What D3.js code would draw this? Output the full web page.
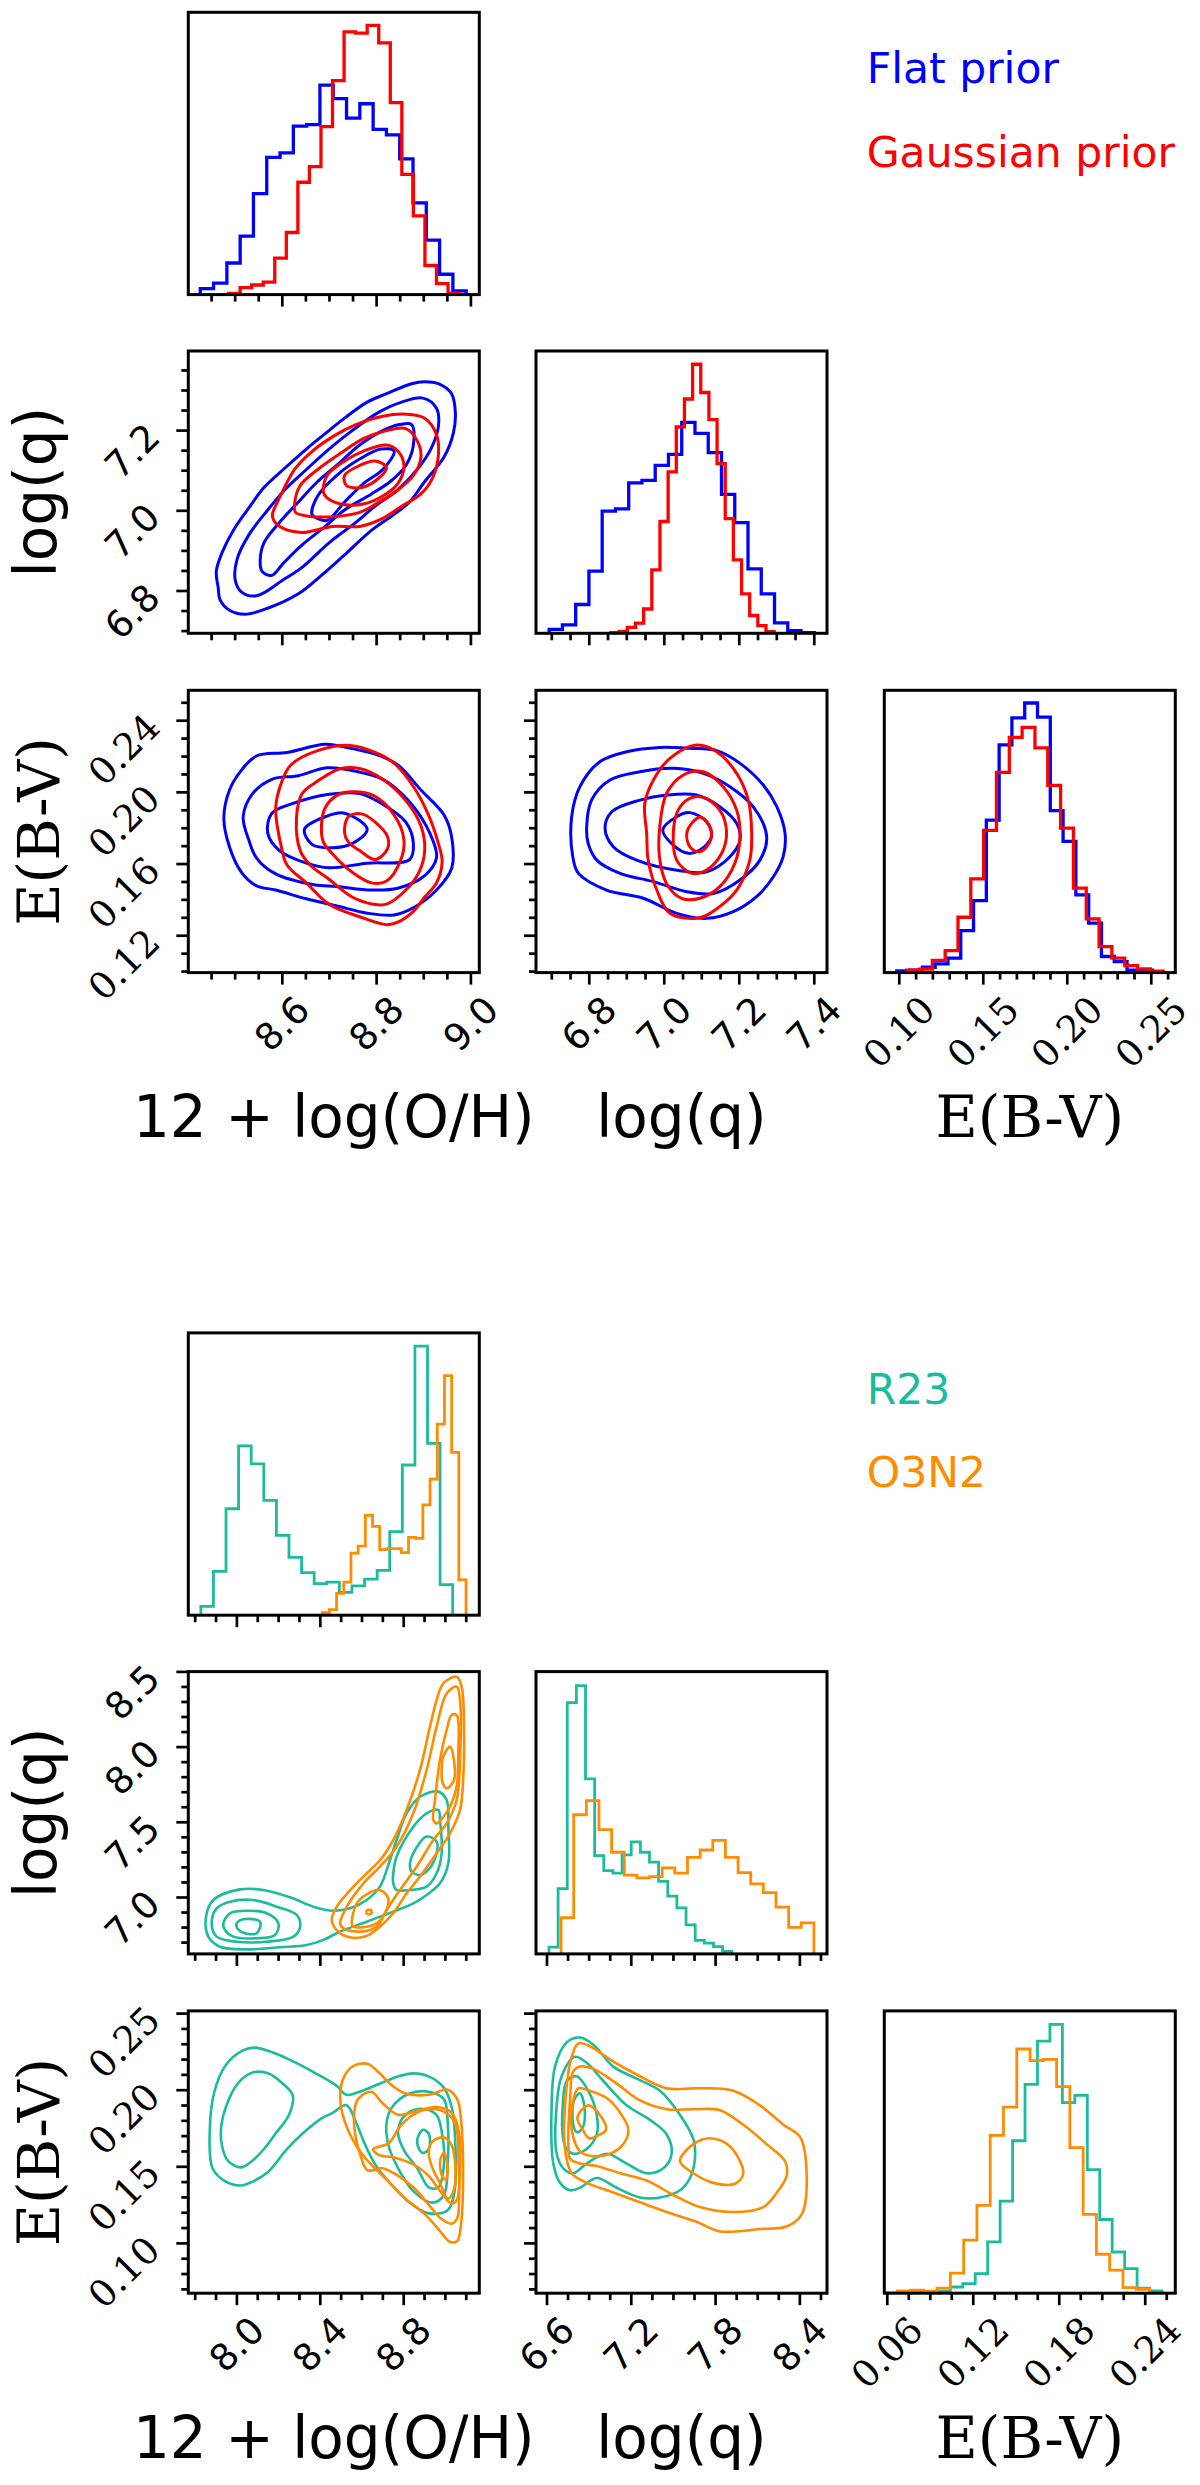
<!DOCTYPE html>
<html><head><meta charset="utf-8">
<script src="https://cdn.jsdelivr.net/npm/d3@7"></script>
<style>body{margin:0;background:#fff} svg{display:block}</style>
</head><body>
<svg id="c" width="1200" height="2485"></svg>
<script>
// ================= DATA : top corner plot (Flat prior vs Gaussian prior) =================
const topNames = ["Flat prior", "Gaussian prior"];
const topColors = ["#0000ff", "#ff0000"];

// histogram bin ranges [first edge, last edge] (20 bins) and bar heights (% of panel height)
const ohFlatRange = [8.426, 8.990];
const ohFlatHist = [2.1, 4.1, 11.2, 20.7, 35.8, 48.6, 50.2, 59.7, 60.2, 74.2, 69.4, 62.5, 67.6, 58.5, 56.6, 48.1, 32.5, 19.3, 7.2, 1.3];
const ohGaussRange = [8.486, 8.976];
const ohGaussHist = [0.4, 2.5, 3.4, 4.4, 12.9, 22.0, 39.8, 45.3, 59.5, 75.8, 93.1, 92.6, 95.4, 89.2, 68.0, 42.6, 27.9, 10.3, 3.9, 0.5];
const qFlatRange = [6.693, 7.400];
const qFlatHist = [1.4, 3.0, 10.2, 22.0, 43.3, 44.1, 53.3, 54.2, 59.5, 63.4, 74.7, 70.8, 64.0, 49.2, 39.2, 22.8, 14.0, 3.7, 0.9, 0.2];
const qGaussRange = [6.858, 7.293];
const qGaussHist = [0.2, 0.7, 2.1, 3.6, 8.6, 22.5, 39.6, 57.2, 73.1, 83.0, 95.3, 85.3, 75.7, 60.1, 40.6, 26.0, 14.0, 6.3, 2.7, 0.6];
const ebvFlatRange = [0.0985, 0.2508];
const ebvFlatHist = [0.6, 0.9, 1.9, 3.1, 5.1, 14.9, 25.5, 54.0, 80.7, 90.2, 95.5, 90.5, 57.4, 46.5, 27.5, 17.5, 5.7, 3.9, 0.9, 0.9];
const ebvGaussRange = [0.1044, 0.2571];
const ebvGaussHist = [0.9, 1.2, 4.3, 7.8, 19.6, 33.2, 50.4, 70.9, 83.3, 86.9, 79.6, 66.3, 51.2, 29.9, 19.0, 9.2, 5.1, 2.5, 1.3, 0.5];

// contour rings (data coordinates)
const flatOHQ = [
 [[8.464,6.808],[8.460,6.849],[8.472,6.895],[8.496,6.951],[8.529,7.007],[8.561,7.058],[8.602,7.103],[8.651,7.154],[8.699,7.200],[8.732,7.231],[8.780,7.271],[8.821,7.292],[8.874,7.317],[8.902,7.322],[8.931,7.317],[8.959,7.292],[8.967,7.246],[8.963,7.195],[8.943,7.134],[8.902,7.073],[8.870,7.022],[8.837,6.991],[8.789,6.951],[8.732,6.890],[8.683,6.839],[8.634,6.793],[8.569,6.757],[8.521,6.742],[8.488,6.752],[8.468,6.778]],
 [[8.500,6.828],[8.504,6.879],[8.529,6.940],[8.569,7.002],[8.610,7.058],[8.651,7.103],[8.699,7.154],[8.748,7.200],[8.805,7.246],[8.853,7.271],[8.898,7.281],[8.927,7.256],[8.931,7.210],[8.915,7.154],[8.886,7.103],[8.845,7.052],[8.797,7.012],[8.756,6.971],[8.699,6.920],[8.642,6.859],[8.602,6.828],[8.545,6.788],[8.513,6.798]],
 [[8.553,6.874],[8.561,6.920],[8.594,6.971],[8.634,7.022],[8.675,7.073],[8.715,7.113],[8.764,7.164],[8.813,7.200],[8.849,7.215],[8.874,7.215],[8.878,7.164],[8.862,7.113],[8.829,7.073],[8.789,7.042],[8.732,7.002],[8.691,6.961],[8.642,6.915],[8.602,6.869],[8.578,6.839],[8.557,6.849]],
 [[8.663,6.991],[8.675,7.037],[8.715,7.088],[8.764,7.129],[8.809,7.154],[8.837,7.149],[8.813,7.103],[8.772,7.068],[8.732,7.022],[8.695,6.976],[8.675,6.981]]
];
const gaussOHQ = [
 [[8.579,6.991],[8.594,7.032],[8.626,7.103],[8.659,7.144],[8.707,7.185],[8.756,7.215],[8.813,7.236],[8.862,7.241],[8.902,7.231],[8.927,7.190],[8.931,7.139],[8.919,7.083],[8.894,7.042],[8.854,7.012],[8.813,6.981],[8.764,6.961],[8.707,6.961],[8.642,6.946],[8.602,6.956],[8.582,6.976]],
 [[8.626,7.017],[8.638,7.063],[8.675,7.103],[8.724,7.144],[8.772,7.180],[8.821,7.200],[8.862,7.205],[8.886,7.175],[8.894,7.134],[8.878,7.088],[8.845,7.052],[8.805,7.022],[8.764,6.996],[8.715,6.986],[8.659,6.986],[8.628,6.996]],
 [[8.687,7.047],[8.695,7.088],[8.732,7.124],[8.772,7.149],[8.821,7.164],[8.845,7.149],[8.858,7.113],[8.845,7.068],[8.813,7.037],[8.772,7.017],[8.724,7.017],[8.695,7.032]],
 [[8.732,7.088],[8.764,7.113],[8.797,7.124],[8.821,7.108],[8.801,7.078],[8.768,7.058],[8.736,7.063]]
];
const flatOHE = [
 [[8.476,0.1854],[8.488,0.2013],[8.513,0.2123],[8.545,0.2203],[8.610,0.2223],[8.691,0.2268],[8.732,0.2253],[8.797,0.2213],[8.845,0.2153],[8.894,0.2013],[8.943,0.1874],[8.959,0.1754],[8.959,0.1575],[8.927,0.1455],[8.878,0.1356],[8.837,0.1316],[8.780,0.1326],[8.716,0.1366],[8.651,0.1406],[8.586,0.1455],[8.545,0.1479],[8.513,0.1555],[8.488,0.1695]],
 [[8.517,0.1864],[8.537,0.1993],[8.578,0.2073],[8.634,0.2093],[8.695,0.2137],[8.764,0.2113],[8.813,0.2073],[8.845,0.2013],[8.886,0.1894],[8.919,0.1734],[8.927,0.1635],[8.902,0.1535],[8.845,0.1465],[8.789,0.1455],[8.716,0.1475],[8.667,0.1485],[8.586,0.1545],[8.545,0.1635],[8.529,0.1734]],
 [[8.569,0.1774],[8.578,0.1884],[8.618,0.1934],[8.699,0.1989],[8.764,0.1993],[8.813,0.1934],[8.862,0.1834],[8.878,0.1714],[8.870,0.1625],[8.780,0.1605],[8.699,0.1579],[8.651,0.1605],[8.594,0.1675]],
 [[8.647,0.1794],[8.691,0.1864],[8.732,0.1884],[8.780,0.1794],[8.748,0.1714],[8.707,0.1691],[8.663,0.1710]]
];
const gaussOHE = [
 [[8.586,0.1914],[8.598,0.2053],[8.618,0.2153],[8.675,0.2233],[8.744,0.2262],[8.797,0.2223],[8.837,0.2163],[8.878,0.2033],[8.910,0.1874],[8.931,0.1714],[8.939,0.1615],[8.927,0.1495],[8.902,0.1416],[8.878,0.1336],[8.845,0.1276],[8.821,0.1262],[8.764,0.1306],[8.699,0.1376],[8.651,0.1495],[8.610,0.1595],[8.598,0.1695]],
 [[8.630,0.1854],[8.642,0.1993],[8.675,0.2063],[8.724,0.2133],[8.764,0.2133],[8.813,0.2073],[8.862,0.1954],[8.894,0.1814],[8.902,0.1675],[8.890,0.1555],[8.862,0.1455],[8.821,0.1376],[8.793,0.1376],[8.748,0.1416],[8.699,0.1515],[8.659,0.1595],[8.638,0.1675]],
 [[8.683,0.1814],[8.691,0.1914],[8.716,0.1983],[8.748,0.2003],[8.793,0.1983],[8.837,0.1874],[8.858,0.1734],[8.850,0.1615],[8.821,0.1505],[8.789,0.1495],[8.748,0.1555],[8.707,0.1655],[8.687,0.1724]],
 [[8.732,0.1774],[8.740,0.1864],[8.768,0.1880],[8.797,0.1834],[8.823,0.1754],[8.823,0.1685],[8.797,0.1625],[8.764,0.1675],[8.740,0.1724]]
];
const flatQE = [
 [[6.753,0.1864],[6.775,0.2032],[6.828,0.2171],[6.900,0.2227],[6.988,0.2251],[7.068,0.2246],[7.140,0.2233],[7.202,0.2162],[7.264,0.2041],[7.300,0.1920],[7.322,0.1771],[7.317,0.1641],[7.291,0.1529],[7.246,0.1418],[7.184,0.1334],[7.113,0.1297],[7.033,0.1325],[6.944,0.1409],[6.846,0.1455],[6.771,0.1548],[6.756,0.1641]],
 [[6.793,0.1808],[6.806,0.1957],[6.855,0.2069],[6.935,0.2115],[7.024,0.2134],[7.104,0.2106],[7.175,0.2032],[7.237,0.1920],[7.273,0.1753],[7.255,0.1622],[7.202,0.1511],[7.131,0.1436],[7.060,0.1446],[6.971,0.1502],[6.882,0.1548],[6.820,0.1622],[6.797,0.1715]],
 [[6.842,0.1799],[6.860,0.1892],[6.935,0.1957],[7.006,0.1985],[7.086,0.1985],[7.148,0.1920],[7.193,0.1827],[7.202,0.1734],[7.175,0.1641],[7.113,0.1557],[7.042,0.1563],[6.926,0.1622],[6.864,0.1697]],
 [[6.996,0.1790],[7.033,0.1864],[7.068,0.1887],[7.113,0.1836],[7.126,0.1753],[7.095,0.1678],[7.064,0.1660],[7.024,0.1706]]
];
const gaussQE = [
 [[6.948,0.1939],[6.971,0.2069],[7.015,0.2190],[7.086,0.2264],[7.140,0.2227],[7.193,0.2106],[7.224,0.1957],[7.233,0.1771],[7.228,0.1622],[7.193,0.1455],[7.122,0.1325],[7.086,0.1297],[7.015,0.1325],[6.980,0.1455],[6.957,0.1622],[6.953,0.1771]],
 [[6.988,0.1808],[7.006,0.1994],[7.051,0.2097],[7.104,0.2115],[7.157,0.2032],[7.193,0.1901],[7.202,0.1753],[7.188,0.1604],[7.148,0.1474],[7.095,0.1409],[7.046,0.1409],[7.006,0.1492],[6.987,0.1641]],
 [[7.024,0.1771],[7.037,0.1901],[7.068,0.1967],[7.104,0.1972],[7.148,0.1901],[7.166,0.1781],[7.153,0.1660],[7.113,0.1567],[7.073,0.1548],[7.033,0.1622]],
 [[7.060,0.1771],[7.073,0.1827],[7.095,0.1861],[7.113,0.1836],[7.126,0.1771],[7.113,0.1697],[7.091,0.1669],[7.068,0.1697]]
];

// ================= DATA : bottom corner plot (R23 vs O3N2) =================
const botNames = ["R23", "O3N2"];
const botColors = ["#1abc9c", "#ff8c00"];

const ohR23Range = [7.827, 9.035];
const ohR23Hist = [3.1, 15.5, 37.7, 60.0, 53.6, 40.7, 28.3, 20.5, 15.1, 11.2, 11.7, 8.1, 10.4, 12.8, 15.9, 29.6, 53.2, 95.3, 60.9, 10.8];
const ohO3N2Range = [8.409, 9.099];
const ohO3N2Hist = [0.9, 2.0, 7.7, 11.7, 22.0, 24.5, 35.4, 31.5, 23.2, 23.6, 23.6, 22.2, 27.6, 27.2, 39.1, 48.2, 67.7, 84.9, 57.7, 12.5];
const qR23Range = [6.614, 7.915];
const qR23Hist = [2.4, 23.1, 89.0, 95.0, 62.0, 34.8, 29.5, 28.6, 35.1, 39.7, 36.0, 32.5, 25.7, 20.5, 16.3, 10.3, 4.8, 3.8, 2.6, 0.9];
const qO3N2Range = [6.700, 8.500];
const qO3N2Hist = [12.8, 49.3, 54.3, 44.0, 36.0, 27.9, 26.9, 27.4, 30.5, 28.6, 34.2, 36.8, 40.2, 34.2, 28.8, 24.8, 21.7, 16.6, 9.4, 11.0];
const ebvR23Range = [0.0779, 0.2517];
const ebvR23Hist = [0.5, 0.5, 0.7, 2.2, 3.4, 6.9, 18.2, 32.6, 54.0, 74.0, 89.3, 95.2, 67.5, 70.1, 43.8, 26.1, 14.6, 8.7, 1.8, 0.8];
const ebvO3N2Range = [0.0577, 0.2430];
const ebvO3N2Hist = [0.2, 0.8, 1.1, 0.7, 1.8, 7.1, 18.8, 31.1, 55.9, 65.9, 86.5, 82.4, 82.8, 73.2, 51.6, 27.9, 13.8, 8.2, 2.0, 1.4];

const r23OHQ = [
 [[8.878,7.670],[8.966,7.704],[9.006,7.648],[9.014,7.471],[9.014,7.227],[8.974,7.094],[8.910,7.017],[8.846,6.961],[8.750,6.906],[8.622,6.839],[8.495,6.773],[8.415,6.718],[8.335,6.684],[8.207,6.669],[8.047,6.655],[7.919,6.673],[7.863,6.740],[7.852,6.873],[7.887,6.983],[8.015,7.054],[8.127,7.050],[8.255,7.001],[8.367,6.939],[8.463,6.912],[8.543,6.928],[8.622,6.983],[8.686,7.072],[8.734,7.249],[8.766,7.382],[8.814,7.559]],
 [[7.879,6.828],[7.903,6.928],[7.967,6.972],[8.079,6.983],[8.191,6.939],[8.287,6.884],[8.303,6.806],[8.271,6.740],[8.143,6.706],[7.999,6.706],[7.903,6.740]],
 [[8.750,7.161],[8.766,7.272],[8.846,7.471],[8.910,7.560],[8.966,7.582],[8.974,7.515],[8.982,7.294],[8.958,7.161],[8.910,7.072],[8.830,7.050],[8.766,7.050],[8.750,7.094]],
 [[7.935,6.828],[7.967,6.895],[8.047,6.912],[8.143,6.895],[8.199,6.828],[8.183,6.751],[8.095,6.729],[7.983,6.740],[7.943,6.784]],
 [[8.830,7.227],[8.846,7.294],[8.910,7.405],[8.958,7.371],[8.958,7.294],[8.918,7.183],[8.878,7.150],[8.838,7.172]],
 [[7.999,6.828],[8.031,6.855],[8.111,6.839],[8.095,6.762],[8.031,6.766],[8.002,6.795]]
];
const o3n2OHQ = [
 [[8.455,6.850],[8.479,6.939],[8.559,7.072],[8.623,7.161],[8.687,7.249],[8.750,7.382],[8.814,7.582],[8.878,7.848],[8.926,8.136],[8.958,8.313],[8.990,8.424],[9.054,8.468],[9.078,8.402],[9.089,8.136],[9.086,7.803],[9.070,7.582],[9.022,7.427],[8.958,7.294],[8.878,7.139],[8.814,7.028],[8.750,6.895],[8.686,6.806],[8.614,6.740],[8.526,6.740],[8.478,6.784]],
 [[8.495,6.828],[8.527,6.939],[8.607,7.094],[8.686,7.205],[8.766,7.338],[8.846,7.560],[8.910,7.848],[8.958,8.136],[9.006,8.357],[9.054,8.402],[9.070,8.313],[9.070,7.914],[9.054,7.648],[9.006,7.493],[8.942,7.382],[8.862,7.205],[8.782,7.050],[8.718,6.917],[8.670,6.806],[8.590,6.773],[8.511,6.795]],
 [[8.942,7.515],[8.950,7.648],[8.974,7.914],[9.006,8.114],[9.030,8.213],[9.054,8.213],[9.062,7.959],[9.054,7.737],[9.022,7.604],[8.990,7.537],[8.958,7.493]],
 [[8.551,6.828],[8.575,6.961],[8.631,7.028],[8.686,7.050],[8.726,6.994],[8.710,6.895],[8.670,6.828],[8.622,6.806],[8.558,6.806]],
 [[8.982,7.848],[8.990,7.937],[9.022,8.003],[9.041,7.914],[9.041,7.781],[9.006,7.726],[8.987,7.759]],
 [[8.622,6.912],[8.641,6.917],[8.646,6.895],[8.625,6.890]]
];
const r23OHE = [
 [[7.883,0.1491],[7.870,0.1741],[7.892,0.1990],[7.947,0.2165],[8.029,0.2260],[8.084,0.2278],[8.185,0.2240],[8.277,0.2183],[8.387,0.2103],[8.479,0.2028],[8.525,0.1970],[8.589,0.1990],[8.681,0.2040],[8.773,0.2090],[8.846,0.2110],[8.920,0.2090],[8.993,0.2015],[9.030,0.1890],[9.048,0.1641],[9.044,0.1341],[9.011,0.1216],[8.920,0.1196],[8.828,0.1266],[8.736,0.1391],[8.663,0.1516],[8.608,0.1666],[8.571,0.1791],[8.525,0.1903],[8.461,0.1853],[8.406,0.1816],[8.314,0.1716],[8.240,0.1616],[8.149,0.1466],[8.075,0.1403],[8.020,0.1378],[7.947,0.1403]],
 [[7.925,0.1766],[7.947,0.1890],[8.002,0.2040],[8.075,0.2115],[8.149,0.2110],[8.222,0.2040],[8.268,0.1965],[8.250,0.1840],[8.185,0.1716],[8.130,0.1616],[8.075,0.1541],[8.020,0.1496],[7.956,0.1541],[7.928,0.1641]],
 [[8.718,0.1791],[8.745,0.1890],[8.828,0.1978],[8.920,0.1990],[8.993,0.1940],[9.011,0.1791],[9.011,0.1516],[8.993,0.1316],[8.938,0.1266],[8.846,0.1341],[8.773,0.1491],[8.727,0.1641]],
 [[8.773,0.1741],[8.809,0.1840],[8.883,0.1878],[8.956,0.1840],[8.984,0.1716],[8.993,0.1516],[8.966,0.1366],[8.920,0.1366],[8.865,0.1491],[8.809,0.1591],[8.782,0.1666]],
 [[8.865,0.1678],[8.892,0.1741],[8.920,0.1716],[8.920,0.1616],[8.892,0.1591],[8.874,0.1616]]
];
const o3n2OHE = [
 [[8.497,0.1915],[8.507,0.2065],[8.553,0.2153],[8.626,0.2173],[8.681,0.2115],[8.736,0.2040],[8.809,0.1978],[8.920,0.1970],[9.011,0.2003],[9.057,0.1940],[9.076,0.1791],[9.085,0.1466],[9.076,0.1141],[9.057,0.1016],[9.021,0.1011],[8.975,0.1079],[8.901,0.1191],[8.809,0.1291],[8.718,0.1416],[8.626,0.1541],[8.571,0.1641],[8.525,0.1766]],
 [[8.562,0.1840],[8.580,0.1940],[8.644,0.1990],[8.699,0.1915],[8.773,0.1840],[8.865,0.1865],[8.956,0.1890],[9.030,0.1853],[9.066,0.1716],[9.066,0.1341],[9.057,0.1166],[9.030,0.1129],[8.975,0.1166],[8.920,0.1253],[8.846,0.1366],[8.773,0.1441],[8.699,0.1491],[8.626,0.1478],[8.589,0.1591],[8.567,0.1716]],
 [[8.653,0.1616],[8.727,0.1653],[8.791,0.1778],[8.883,0.1865],[8.975,0.1870],[9.044,0.1791],[9.063,0.1541],[9.057,0.1291],[9.030,0.1261],[8.975,0.1341],[8.920,0.1441],[8.846,0.1516],[8.754,0.1561],[8.681,0.1578]],
 [[8.920,0.1591],[8.938,0.1666],[8.993,0.1691],[9.030,0.1641],[9.048,0.1491],[9.039,0.1341],[9.011,0.1291],[8.975,0.1391],[8.938,0.1491]],
 [[8.975,0.1541],[8.993,0.1591],[9.011,0.1491],[9.002,0.1416],[8.984,0.1441]]
];
const r23QE = [
 [[6.645,0.1521],[6.633,0.1901],[6.657,0.2154],[6.740,0.2312],[6.835,0.2344],[6.930,0.2297],[7.072,0.2154],[7.238,0.2075],[7.404,0.1996],[7.547,0.1838],[7.642,0.1680],[7.653,0.1553],[7.618,0.1427],[7.547,0.1347],[7.404,0.1300],[7.262,0.1300],[7.096,0.1363],[6.954,0.1427],[6.835,0.1363],[6.764,0.1347],[6.693,0.1395]],
 [[6.669,0.1585],[6.669,0.1901],[6.704,0.2091],[6.799,0.2218],[6.894,0.2170],[7.001,0.2060],[7.167,0.1901],[7.333,0.1806],[7.452,0.1711],[7.487,0.1585],[7.428,0.1490],[7.309,0.1458],[7.167,0.1521],[7.025,0.1585],[6.882,0.1521],[6.787,0.1458],[6.716,0.1490]],
 [[6.716,0.1680],[6.712,0.1901],[6.740,0.2059],[6.811,0.2091],[6.894,0.1996],[6.954,0.1838],[6.954,0.1711],[6.882,0.1616],[6.787,0.1585],[6.740,0.1616]],
 [[6.787,0.1775],[6.792,0.1933],[6.835,0.1980],[6.870,0.1854],[6.847,0.1743],[6.811,0.1727]]
];
const o3n2QE = [
 [[6.728,0.1616],[6.740,0.2028],[6.776,0.2218],[6.823,0.2306],[6.906,0.2287],[7.072,0.2186],[7.262,0.2091],[7.452,0.2012],[7.642,0.2012],[7.784,0.2012],[7.926,0.1996],[8.116,0.1901],[8.282,0.1775],[8.401,0.1695],[8.448,0.1458],[8.413,0.1189],[8.306,0.1110],[8.116,0.1094],[7.831,0.1078],[7.665,0.1141],[7.452,0.1205],[7.262,0.1268],[7.072,0.1332],[6.882,0.1395],[6.776,0.1458]],
 [[6.752,0.1648],[6.764,0.1933],[6.787,0.2123],[6.835,0.2154],[6.930,0.2139],[7.072,0.2059],[7.262,0.1933],[7.452,0.1876],[7.642,0.1876],[7.831,0.1869],[7.997,0.1774],[8.163,0.1648],[8.294,0.1537],[8.306,0.1442],[8.235,0.1331],[8.140,0.1237],[7.926,0.1205],[7.689,0.1237],[7.499,0.1316],[7.309,0.1411],[7.120,0.1458],[6.954,0.1505],[6.835,0.1521],[6.764,0.1553]],
 [[6.776,0.1743],[6.787,0.1933],[6.823,0.2012],[6.906,0.1996],[7.025,0.1949],[7.120,0.1854],[7.179,0.1743],[7.143,0.1648],[7.048,0.1585],[6.930,0.1569],[6.835,0.1601]],
 [[7.547,0.1537],[7.642,0.1648],[7.760,0.1686],[7.903,0.1632],[7.997,0.1458],[7.938,0.1389],[7.784,0.1395],[7.642,0.1458]],
 [[6.816,0.1822],[6.894,0.1901],[6.977,0.1838],[7.020,0.1743],[6.977,0.1711],[6.901,0.1686],[6.854,0.1743]]
];

// ================= AXES (view ranges, tick values, tick labels) =================
const axisTitles = ["12 + log(O/H)", "log(q)", "E(B-V)"];
const topOH = {domain:[8.4006, 9.0178], major:[8.6, 8.8, 9.0], labels:["8.6","8.8","9.0"], minor:0.05};
const topQx = {domain:[6.6579, 7.4339], major:[6.8, 7.0, 7.2, 7.4], labels:["6.8","7.0","7.2","7.4"], minor:0.05};
const topQy = {domain:[6.6945, 7.3985], major:[6.8, 7.0, 7.2], labels:["6.8","7.0","7.2"], minor:0.05};
const topEx = {domain:[0.09107, 0.26429], major:[0.10, 0.15, 0.20, 0.25], labels:["0.10","0.15","0.20","0.25"], minor:0.01};
const topEy = {domain:[0.09943, 0.25696], major:[0.12, 0.16, 0.20, 0.24], labels:["0.12","0.16","0.20","0.24"], minor:0.01};
const botOH = {domain:[7.7669, 9.1626], major:[8.0, 8.4, 8.8], labels:["8.0","8.4","8.8"], minor:0.1};
const botQx = {domain:[6.5217, 8.593], major:[6.6, 7.2, 7.8, 8.4], labels:["6.6","7.2","7.8","8.4"], minor:0.15};
const botQy = {domain:[6.625, 8.502], major:[7.0, 7.5, 8.0, 8.5], labels:["7.0","7.5","8.0","8.5"], minor:0.1};
const botEx = {domain:[0.05791, 0.26098], major:[0.06, 0.12, 0.18, 0.24], labels:["0.06","0.12","0.18","0.24"], minor:0.015};
const botEy = {domain:[0.06749, 0.25176], major:[0.10, 0.15, 0.20, 0.25], labels:["0.10","0.15","0.20","0.25"], minor:0.01};

// ================= LAYOUT / STYLE =================
const SANS = "'DejaVu Sans', Verdana, sans-serif";
const SERIF = "'DejaVu Serif', 'Liberation Serif', serif";
const colX = [188.3, 536, 884.3];
const rowY = [12.3, 351, 690.3];
const PW = 291, PH = 282.3;
const TFS = 37, LFS = 58, LEGFS = 42.5;

const sections = [
  { yOff: 0, names: topNames, colors: topColors, lw: 3.3, clw: 3.0,
    xAxes: [topOH, topQx, topEx], yAxes: [null, topQy, topEy],
    hists: [[[ohFlatRange, ohFlatHist],[ohGaussRange, ohGaussHist]],
            [[qFlatRange, qFlatHist],[qGaussRange, qGaussHist]],
            [[ebvFlatRange, ebvFlatHist],[ebvGaussRange, ebvGaussHist]]],
    cont: {"1,0":[flatOHQ, gaussOHQ], "2,0":[flatOHE, gaussOHE], "2,1":[flatQE, gaussQE]} },
  { yOff: 1320.6, names: botNames, colors: botColors, lw: 2.8, clw: 2.6,
    xAxes: [botOH, botQx, botEx], yAxes: [null, botQy, botEy],
    hists: [[[ohR23Range, ohR23Hist],[ohO3N2Range, ohO3N2Hist]],
            [[qR23Range, qR23Hist],[qO3N2Range, qO3N2Hist]],
            [[ebvR23Range, ebvR23Hist],[ebvO3N2Range, ebvO3N2Hist]]],
    cont: {"1,0":[r23OHQ, o3n2OHQ], "2,0":[r23OHE, o3n2OHE], "2,1":[r23QE, o3n2QE]} }
];

const svg = d3.select("#c");
const defs = svg.append("defs");
let clipId = 0;

function minorTicks(ax) {
  const out = [], s = ax.minor;
  for (let k = Math.ceil(ax.domain[0]/s - 1e-9); k*s <= ax.domain[1] + 1e-9; k++) {
    const v = +(k*s).toFixed(6);
    if (v < ax.domain[0] || v > ax.domain[1]) continue;
    if (ax.major.some(m => Math.abs(m - v) < 1e-6)) continue;
    out.push(v);
  }
  return out;
}
function fontFor(idx) { return idx === 2 ? SERIF : SANS; }

sections.forEach(S => {
  const G = svg.append("g");
  for (let r = 0; r < 3; r++) for (let c = 0; c <= r; c++) {
    const x0 = colX[c], y0 = rowY[r] + S.yOff;
    const xAx = S.xAxes[c];
    const x = d3.scaleLinear().domain(xAx.domain).range([x0, x0 + PW]);
    const g = G.append("g");
    const id = "clip" + (clipId++);
    defs.append("clipPath").attr("id", id).append("rect")
      .attr("x", x0).attr("y", y0).attr("width", PW).attr("height", PH);
    const plot = g.append("g").attr("clip-path", `url(#${id})`);
    let y, yAx = null;
    if (r === c) {
      y = d3.scaleLinear().domain([0, 100]).range([y0 + PH, y0]);
      S.hists[c].forEach((h, si) => {
        const [rng, vals] = h;
        const edges = d3.range(vals.length + 1).map(i => rng[0] + (rng[1] - rng[0]) * i / vals.length);
        const pts = [[edges[0], 0]];
        vals.forEach((v, i) => { pts.push([edges[i], v]); pts.push([edges[i+1], v]); });
        pts.push([edges[vals.length], 0]);
        plot.append("path")
          .attr("d", d3.line().x(d => x(d[0])).y(d => y(d[1]))(pts))
          .attr("fill", "none").attr("stroke", S.colors[si])
          .attr("stroke-width", S.lw).attr("stroke-linejoin", "miter");
      });
    } else {
      yAx = S.yAxes[r];
      y = d3.scaleLinear().domain(yAx.domain).range([y0 + PH, y0]);
      const line = d3.line().x(d => x(d[0])).y(d => y(d[1])).curve(d3.curveCatmullRomClosed.alpha(0.5));
      S.cont[r + "," + c].forEach((rings, si) => {
        rings.forEach(ring => {
          plot.append("path").attr("d", line(ring))
            .attr("fill", "none").attr("stroke", S.colors[si])
            .attr("stroke-width", S.clw).attr("stroke-linejoin", "round");
        });
      });
    }
    // x ticks
    const yb = y0 + PH;
    const tk = g.append("g").attr("stroke", "#000").attr("stroke-width", 2.7);
    tk.selectAll(null).data(xAx.major).enter().append("line")
      .attr("x1", d => x(d)).attr("x2", d => x(d)).attr("y1", yb).attr("y2", yb + 12);
    tk.selectAll(null).data(minorTicks(xAx)).enter().append("line")
      .attr("x1", d => x(d)).attr("x2", d => x(d)).attr("y1", yb).attr("y2", yb + 7);
    if (yAx) {
      tk.selectAll(null).data(yAx.major).enter().append("line")
        .attr("y1", d => y(d)).attr("y2", d => y(d)).attr("x1", x0).attr("x2", x0 - 12);
      tk.selectAll(null).data(minorTicks(yAx)).enter().append("line")
        .attr("y1", d => y(d)).attr("y2", d => y(d)).attr("x1", x0).attr("x2", x0 - 7);
    }
    // frame
    g.append("rect").attr("x", x0).attr("y", y0).attr("width", PW).attr("height", PH)
      .attr("fill", "none").attr("stroke", "#000").attr("stroke-width", 3);
    // x tick labels (bottom row)
    if (r === 2) {
      xAx.major.forEach((v, i) => {
        const t = g.append("text").text(xAx.labels[i])
          .attr("font-family", fontFor(c)).attr("font-size", TFS)
          .attr("text-anchor", "middle").attr("dominant-baseline", "central");
        const w = t.node().getComputedTextLength();
        const bh = (w + 0.73 * TFS) / Math.SQRT2;
        t.attr("transform", `translate(${x(v)},${yb + 21 + bh / 2}) rotate(-45)`);
      });
      g.append("text").text(axisTitles[c])
        .attr("font-family", fontFor(c)).attr("font-size", LFS)
        .attr("text-anchor", "middle")
        .attr("x", x0 + PW / 2).attr("y", 1137 + S.yOff);
    }
    // y tick labels (first column)
    if (c === 0 && yAx) {
      yAx.major.forEach((v, i) => {
        g.append("text").text(yAx.labels[i])
          .attr("font-family", fontFor(r)).attr("font-size", TFS)
          .attr("text-anchor", "end").attr("dominant-baseline", "central")
          .attr("transform", `translate(${x0 - 35},${y(v)}) rotate(-45)`);
      });
      g.append("text").text(axisTitles[r])
        .attr("font-family", fontFor(r)).attr("font-size", LFS)
        .attr("text-anchor", "middle")
        .attr("transform", `translate(${r === 2 ? 59 : 56},${y0 + PH / 2}) rotate(-90)`);
    }
  }
  // legend
  S.names.forEach((n, i) => {
    G.append("text").text(n).attr("x", 866.7).attr("y", 83.3 + 83.4 * i + S.yOff)
      .attr("font-family", SANS).attr("font-size", LEGFS).attr("fill", S.colors[i]);
  });
});
</script>
</body></html>
